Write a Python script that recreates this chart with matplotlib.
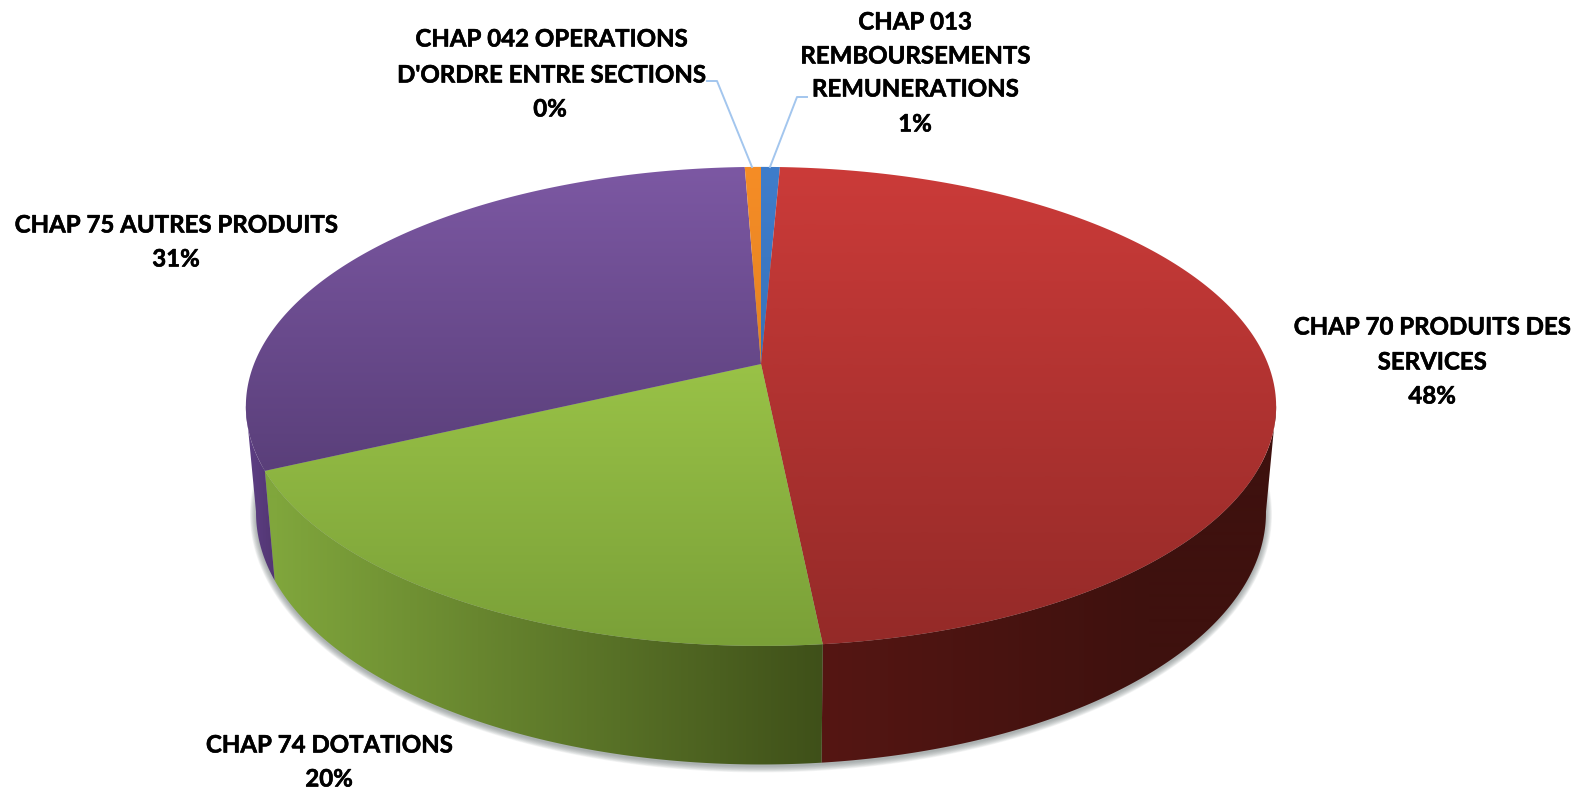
"""
Perspective 3D pie of the revenue chapters, drawn by hand with gradient fills.
"""

import matplotlib
matplotlib.use("Agg")
import matplotlib.pyplot as plt
import matplotlib.patheffects as pe
from matplotlib.colors import LinearSegmentedColormap
from matplotlib.patches import Polygon
import numpy as np

plt.rcParams["font.family"] = ["Lato", "DejaVu Sans"]

# clockwise from 12 o'clock
CHAPTERS = ["CHAP 013", "CHAP 70", "CHAP 74", "CHAP 75", "CHAP 042"]
SHARES = [0.7, 47.7, 19.6, 31.4, 0.6]

LINES_042 = ["CHAP 042 OPERATIONS", "D'ORDRE ENTRE SECTIONS", "0%"]
LINES_013 = ["CHAP 013", "REMBOURSEMENTS", "REMUNERATIONS", "1%"]
LINES_75 = ["CHAP 75 AUTRES PRODUITS", "31%"]
LINES_70 = ["CHAP 70 PRODUITS DES", "SERVICES", "48%"]
LINES_74 = ["CHAP 74 DOTATIONS", "20%"]

# colours: start and end of the gradient
TOP_COLORS = {
    "CHAP 013": ("#3F7DCB", "#2F62A0"),
    "CHAP 70": ("#CB3B39", "#942A28"),
    "CHAP 74": ("#99C247", "#7AA038"),
    "CHAP 75": ("#7C58A3", "#5A3F7A"),
    "CHAP 042": ("#F68D26", "#C87420"),
}
TOP_SPANS = {
    "CHAP 013": (167, 646),
    "CHAP 70": (167, 646),
    "CHAP 74": (364, 646),
    "CHAP 75": (167, 470),
    "CHAP 042": (167, 646),
}
WALL_COLORS = {
    "CHAP 70": ("#551613", "#3E110E"),
    "CHAP 74": ("#80A63C", "#3F5019"),
    "CHAP 75": ("#5E3F85", "#523672"),
}
WALL_SPANS = {
    "CHAP 70": (822, 1150),
    "CHAP 74": (275, 822),
    "CHAP 75": (246, 275),
}

K = 0.177
TOP_RIM = dict(x0=761, y0=364, a=507, b=232)
BOTTOM_RIM = dict(x0=761, y0=468, a=497, b=244)
# outline tangents of the cylinder, in degrees clockwise from the top
VISIBLE = (100, 260)


def project(theta, rim):
    u = np.sin(theta)
    v = np.cos(theta)
    w = 1 + K * v
    return np.column_stack((rim["x0"] + rim["a"] * u / w, rim["y0"] - rim["b"] * v / w))


def gradient_fill(ax, verts, c0, c1, horizontal, span):
    poly = Polygon(verts, closed=True, facecolor="none", edgecolor="none", zorder=2)
    ax.add_patch(poly)
    cmap = LinearSegmentedColormap.from_list("g", [c0, c1])
    # image covers the whole canvas, colour held flat outside the span
    if horizontal:
        ramp = np.clip((np.arange(1584) - span[0]) / (span[1] - span[0]), 0, 1)[None, :]
    else:
        ramp = np.clip((np.arange(790) - span[0]) / (span[1] - span[0]), 0, 1)[:, None]
    im = ax.imshow(ramp, cmap=cmap, vmin=0, vmax=1, extent=(0, 1584, 790, 0), aspect="auto",
                   interpolation="bilinear", zorder=2)
    im.set_clip_path(poly)
    return im


def draw_pie(ax):
    cuts = np.radians(np.concatenate(([0], np.cumsum(SHARES))) * 3.6)
    lo, hi = np.radians(VISIBLE)

    # soft shadow round the base
    base = project(np.linspace(0, 2 * np.pi, 400), BOTTOM_RIM)
    for grow in np.linspace(6, 0, 10):
        pts = base.copy()
        pts[:, 0] = 761 + (pts[:, 0] - 761) * (1 + grow / 505)
        pts[:, 1] = 513 + (pts[:, 1] - 513) * (1 + grow / 252) + 2
        ax.add_patch(Polygon(pts, closed=True, facecolor="#707878", edgecolor="none", alpha=0.08, zorder=1))

    # walls first, only the part of each slice facing the viewer
    for name, start, end in zip(CHAPTERS, cuts[:-1], cuts[1:]):
        if name not in WALL_COLORS:
            continue
        theta = np.linspace(max(start, lo), min(end, hi), 200)
        verts = np.vstack((project(theta, TOP_RIM), project(theta[::-1], BOTTOM_RIM)))
        c0, c1 = WALL_COLORS[name]
        gradient_fill(ax, verts, c0, c1, True, WALL_SPANS[name])

    # top face
    for name, start, end in zip(CHAPTERS, cuts[:-1], cuts[1:]):
        theta = np.linspace(start, end, 200)
        verts = np.vstack(([[TOP_RIM["x0"], TOP_RIM["y0"]]], project(theta, TOP_RIM)))
        c0, c1 = TOP_COLORS[name]
        gradient_fill(ax, verts, c0, c1, False, TOP_SPANS[name])


def draw_labels(ax):
    style = dict(ha="center", va="center", fontsize=17.3, fontweight="bold", color="black", zorder=5,
                 path_effects=[pe.withStroke(linewidth=0.4, foreground="black")])
    for lines, xs, ys in [
        (LINES_042, [551, 551, 550], [39, 75, 109]),
        (LINES_013, [915, 915, 915, 915], [22, 56, 89, 124]),
        (LINES_75, [176, 176], [225, 259]),
        (LINES_70, [1432, 1432, 1432], [327, 362, 396]),
        (LINES_74, [329, 329], [745, 779]),
    ]:
        for line, x, y in zip(lines, xs, ys):
            ax.text(x, y, line, **style)

    # leader lines
    ax.plot([707, 717, 752], [81, 81, 167], color="#A3C6EE", lw=1.4, zorder=4)
    ax.plot([807, 797, 770], [97, 97, 167], color="#A3C6EE", lw=1.4, zorder=4)


def main():
    fig = plt.figure(figsize=(15.84, 7.90), dpi=100)
    ax = fig.add_axes([0, 0, 1, 1])
    draw_pie(ax)
    draw_labels(ax)
    ax.set_xlim(0, 1584)
    ax.set_ylim(790, 0)
    ax.axis("off")
    fig.savefig("out.png", dpi=100)
    plt.close(fig)


if __name__ == "__main__":
    main()
